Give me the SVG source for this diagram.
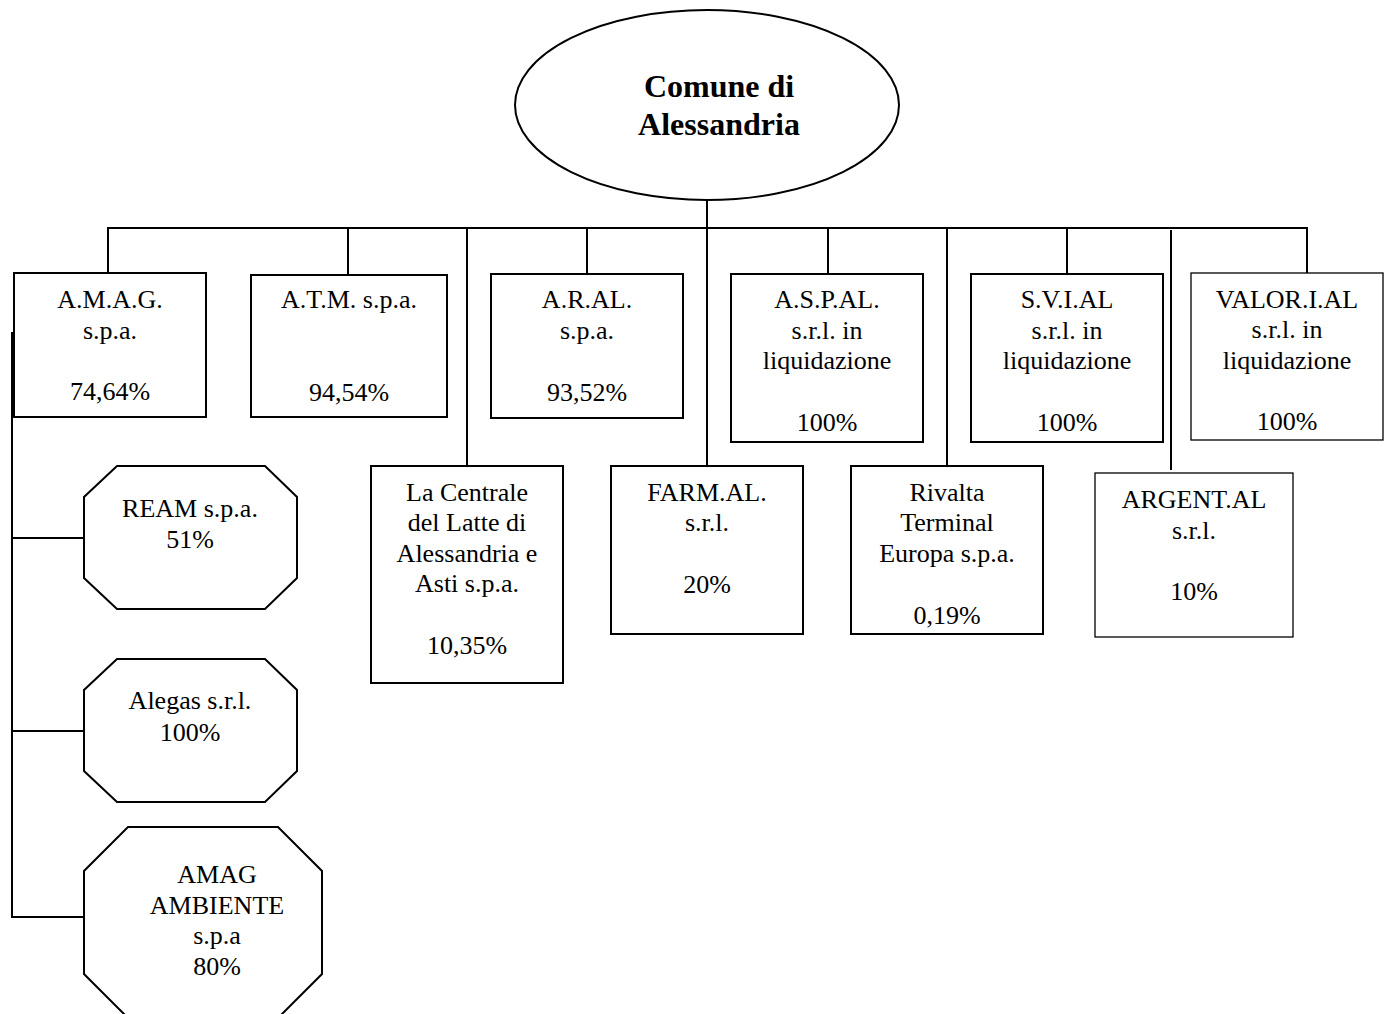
<svg xmlns="http://www.w3.org/2000/svg" width="1388" height="1014" viewBox="0 0 1388 1014">
<style>
.b{fill:#fff;stroke:#000;stroke-width:2}
.t{fill:#fff;stroke:#000;stroke-width:1.3}
.c{fill:none;stroke:#000;stroke-width:2}
text{font-family:"Liberation Serif","Times New Roman",serif;font-size:26px;fill:#000;text-anchor:middle}
.h{font-size:32px;font-weight:bold}
</style>
<rect width="1388" height="1014" fill="#fff"/>
<g id="connectors">
<line class="c" x1="707" y1="200" x2="707" y2="466"/>
<line class="c" x1="107" y1="228" x2="1308" y2="228"/>
<line class="c" x1="108" y1="228" x2="108" y2="273"/>
<line class="c" x1="348" y1="228" x2="348" y2="275"/>
<line class="c" x1="467" y1="228" x2="467" y2="466"/>
<line class="c" x1="587" y1="228" x2="587" y2="274"/>
<line class="c" x1="828" y1="228" x2="828" y2="274"/>
<line class="c" x1="947" y1="228" x2="947" y2="466"/>
<line class="c" x1="1067" y1="228" x2="1067" y2="274"/>
<line class="c" x1="1171" y1="230" x2="1171" y2="470"/>
<line class="c" x1="1307" y1="228" x2="1307" y2="273"/>
<line class="c" x1="12" y1="332" x2="12" y2="918"/>
<line class="c" x1="11" y1="538" x2="84" y2="538"/>
<line class="c" x1="11" y1="731" x2="84" y2="731"/>
<line class="c" x1="11" y1="917" x2="84" y2="917"/>
</g>
<g id="comune">
<ellipse class="b" cx="707" cy="105" rx="192" ry="95"/>
<text class="h" x="719" y="97">Comune di</text>
<text class="h" x="719" y="135">Alessandria</text>
</g>
<g id="amag">
<rect class="b" x="14" y="273" width="192" height="144"/>
<text x="110" y="308">A.M.A.G.</text>
<text x="110" y="339">s.p.a.</text>
<text x="110" y="400">74,64%</text>
</g>
<g id="atm">
<rect class="b" x="251" y="275" width="196" height="142"/>
<text x="349" y="308">A.T.M. s.p.a.</text>
<text x="349" y="401">94,54%</text>
</g>
<g id="aral">
<rect class="b" x="491" y="274" width="192" height="144"/>
<text x="587" y="308">A.R.AL.</text>
<text x="587" y="339">s.p.a.</text>
<text x="587" y="401">93,52%</text>
</g>
<g id="aspal">
<rect class="b" x="731" y="274" width="192" height="168"/>
<text x="827" y="308">A.S.P.AL.</text>
<text x="827" y="339">s.r.l. in</text>
<text x="827" y="369">liquidazione</text>
<text x="827" y="431">100%</text>
</g>
<g id="svial">
<rect class="b" x="971" y="274" width="192" height="168"/>
<text x="1067" y="308">S.V.I.AL</text>
<text x="1067" y="339">s.r.l. in</text>
<text x="1067" y="369">liquidazione</text>
<text x="1067" y="431">100%</text>
</g>
<g id="valorial">
<rect class="t" x="1191" y="273" width="192" height="167"/>
<text x="1287" y="308">VALOR.I.AL</text>
<text x="1287" y="338">s.r.l. in</text>
<text x="1287" y="369">liquidazione</text>
<text x="1287" y="430">100%</text>
</g>
<g id="centrale">
<rect class="b" x="371" y="466" width="192" height="217"/>
<text x="467" y="501">La Centrale</text>
<text x="467" y="531">del Latte di</text>
<text x="467" y="562">Alessandria e</text>
<text x="467" y="592">Asti s.p.a.</text>
<text x="467" y="654">10,35%</text>
</g>
<g id="farmal">
<rect class="b" x="611" y="466" width="192" height="168"/>
<text x="707" y="501">FARM.AL.</text>
<text x="707" y="531">s.r.l.</text>
<text x="707" y="593">20%</text>
</g>
<g id="rivalta">
<rect class="b" x="851" y="466" width="192" height="168"/>
<text x="947" y="501">Rivalta</text>
<text x="947" y="531">Terminal</text>
<text x="947" y="562">Europa s.p.a.</text>
<text x="947" y="624">0,19%</text>
</g>
<g id="argental">
<rect class="t" x="1095" y="473" width="198" height="164"/>
<text x="1194" y="508">ARGENT.AL</text>
<text x="1194" y="539">s.r.l.</text>
<text x="1194" y="600">10%</text>
</g>
<g id="ream">
<polygon class="b" points="117,466 265,466 297,497 297,578 265,609 117,609 84,578 84,497"/>
<text x="190" y="517">REAM s.p.a.</text>
<text x="190" y="548">51%</text>
</g>
<g id="alegas">
<polygon class="b" points="117,659 265,659 297,690 297,771 265,802 117,802 84,771 84,690"/>
<text x="190" y="709">Alegas s.r.l.</text>
<text x="190" y="741">100%</text>
</g>
<g id="amag-ambiente">
<polygon class="b" points="128,827 278,827 322,871 322,974 278,1018 128,1018 84,974 84,871"/>
<text x="217" y="883">AMAG</text>
<text x="217" y="914">AMBIENTE</text>
<text x="217" y="944">s.p.a</text>
<text x="217" y="975">80%</text>
</g>
</svg>
